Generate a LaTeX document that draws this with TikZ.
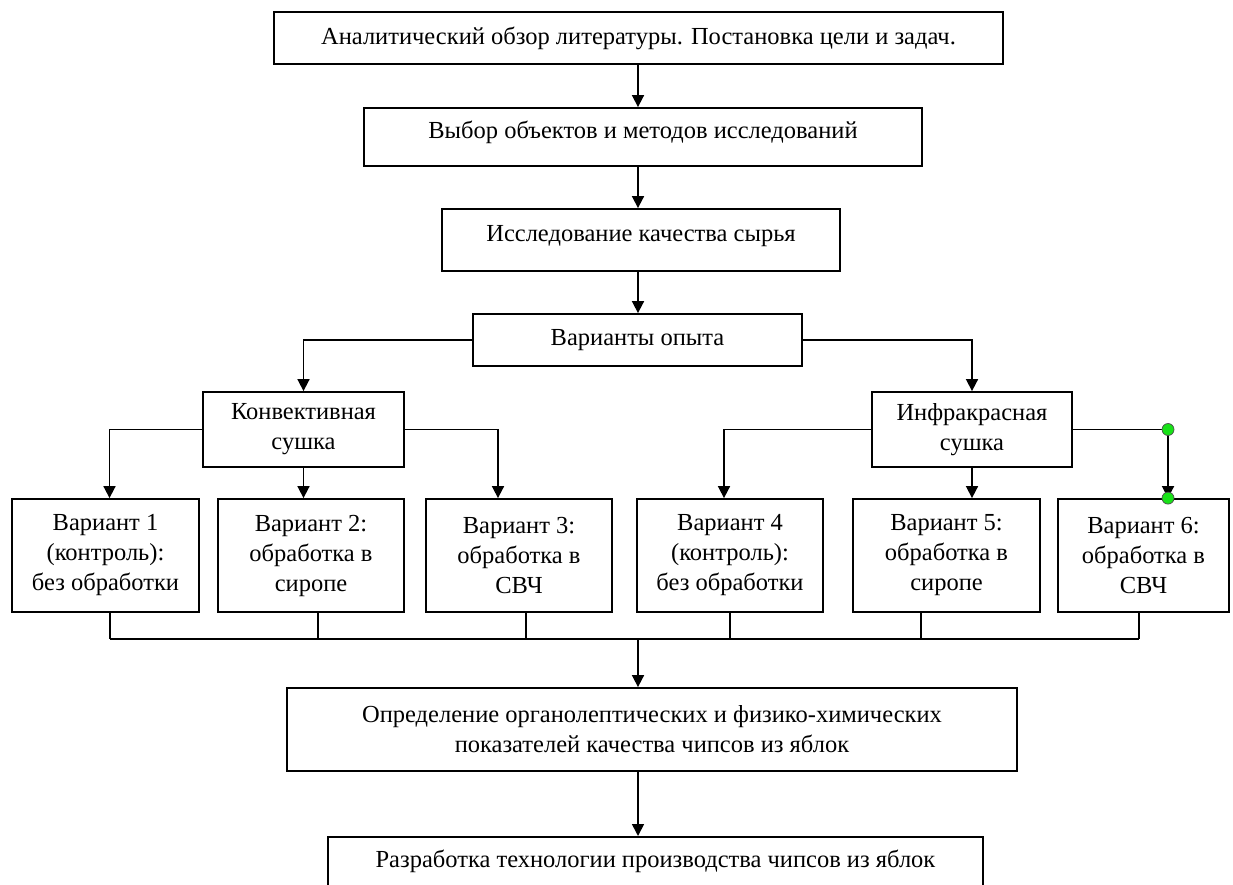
\documentclass[tikz,border=0pt]{standalone}
\usepackage{fontspec}
\setmainfont{Liberation Serif}
\usepackage{xcolor}
\usetikzlibrary{positioning,arrows.meta,calc}
\definecolor{handlegreen}{RGB}{24,226,24}

\begin{document}
\begin{tikzpicture}[x=1pt,y=-1pt,
    font=\fontsize{24.5}{30}\selectfont,>={Triangle[width=12pt,length=12pt]},
    block/.style={draw,line width=1.8pt,align=center,inner sep=0pt},
    stage/.style={block,minimum height=75pt},
    variant/.style={block,minimum height=113pt},
    flow/.style={->,line width=1.7pt},
    link/.style={line width=1.7pt},
    handle/.style={circle,fill=handlegreen,draw=black!70,line width=0.7pt,
      inner sep=0pt,minimum size=12pt}
]
\useasboundingbox (0,0) rectangle (1233,885);
\clip (0,0) rectangle (1233,885);
\coordinate (axis) at (638,0);

% main column
\node[block,minimum width=729pt,minimum height=52pt] (review) at (638.5,38)
  {Аналитический обзор литературы. Постановка цели и задач.};
\node[block,minimum width=558pt,minimum height=58pt,text height=17pt,
  text depth=13pt] (choice) at (643,137)
  {Выбор объектов и методов исследований};
\node[block,minimum width=398pt,minimum height=62pt,text height=17pt,
  text depth=13pt] (rawqual) at (641,240)
  {Исследование качества сырья};
\node[block,minimum width=329pt,minimum height=52pt] (variants) at (637.5,340)
  {Варианты опыта};

% drying methods
\node[stage,minimum width=201pt] (convect) at (303.5,429.5)
  {Конвективная\\сушка};
\node[stage,minimum width=200pt] (infra) at (972,429.5)
  {Инфракрасная\\сушка};

% experiment variants
\node[variant,minimum width=187pt] (var1) at (105.5,555.5)
  {Вариант 1\\(контроль):\\без обработки};
\node[variant,minimum width=186pt] (var2) at (311,555.5)
  {Вариант 2:\\обработка в\\сиропе};
\node[variant,minimum width=186pt] (var3) at (519,555.5)
  {Вариант 3:\\обработка в\\СВЧ};
\node[variant,minimum width=186pt] (var4) at (730,555.5)
  {Вариант 4\\(контроль):\\без обработки};
\node[variant,minimum width=187pt] (var5) at (946.5,555.5)
  {Вариант 5:\\обработка в\\сиропе};
\node[variant,minimum width=171pt] (var6) at (1143.5,555.5)
  {Вариант 6:\\обработка в\\СВЧ};

% results
\node[block,minimum width=730pt,minimum height=83pt] (quality) at (652,729.5)
  {Определение органолептических и физико-химических\\показателей качества чипсов из яблок};
\node[block,minimum width=655pt,minimum height=60pt,text height=22pt,
  text depth=20pt,anchor=north] (develop) at (655.5,836)
  {Разработка технологии производства чипсов из яблок};

\draw[flow] (axis |- review.south) -- (axis |- choice.north);
\draw[flow] (axis |- choice.south) -- (axis |- rawqual.north);
\draw[flow] (axis |- rawqual.south) -- (axis |- variants.north);

\draw[flow] (variants.west) -| (convect.north);
\draw[flow] (variants.east) -| (infra.north);

\coordinate (in1) at ([xshift=4pt]var1.north);
\coordinate (in3) at ([xshift=-21pt]var3.north);
\coordinate (in4) at ([xshift=-6pt]var4.north);
\coordinate (in6) at ([xshift=24.5pt]var6.north);
\draw[flow] (convect.west) -| (in1);
\draw[flow] (convect.south) -- (convect.south |- var2.north);
\draw[flow] (convect.east) -| (in3);
\draw[flow] (infra.west) -| (in4);
\draw[flow] (infra.south) -- (infra.south |- var5.north);
\draw[flow] (infra.east) -| (in6);
\node[handle] (grip1) at (infra.east -| in6) {};
\node[handle] (grip2) at (in6) {};

% collecting line
\foreach \n/\x in {1/110,2/318,3/526,4/730,5/921,6/1139}{
  \coordinate (bus\n) at (\x,639);
  \draw[link] (var\n.south -| bus\n) -- (bus\n);
}
\draw[link] (bus1) -- (bus6);
\draw[flow] (axis |- bus1) -- (axis |- quality.north);
\draw[flow] (axis |- quality.south) -- (axis |- develop.north);
\end{tikzpicture}
\end{document}
